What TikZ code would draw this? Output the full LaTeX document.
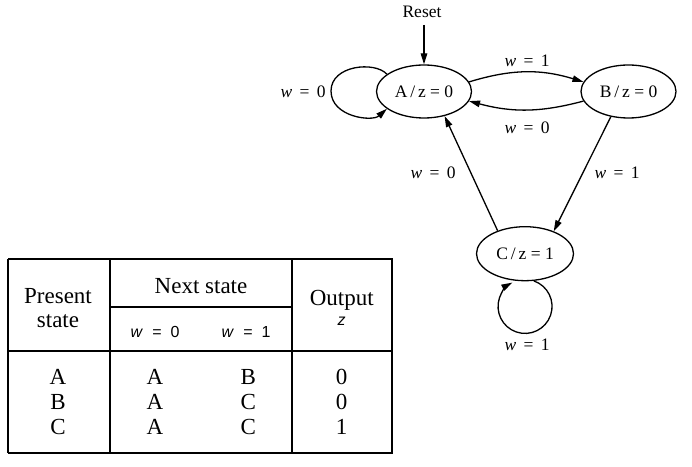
\documentclass[tikz,border=0pt]{standalone}
\usepackage{fontspec}
\setmainfont{Liberation Serif}
\setsansfont{Liberation Sans}
\usetikzlibrary{shapes.geometric,arrows.meta}
\begin{document}
\begin{tikzpicture}[x=1pt,y=1pt,
  state/.style={ellipse,draw,line width=1.3pt,minimum width=95pt,minimum height=53pt,inner sep=0pt,font=\fontsize{17.5}{20}\selectfont},
  lbl/.style={font=\fontsize{17.5}{20}\selectfont,inner sep=0pt},
  edge/.style={line width=1.3pt,-{Triangle[length=11pt,width=6.5pt]}},
  tline/.style={line width=2pt},
  tser/.style={font=\fontsize{23}{26}\selectfont,anchor=base,inner sep=0pt},
  tsans/.style={font=\sffamily\fontsize{16}{18}\selectfont,anchor=base,inner sep=0pt}]
\useasboundingbox (0,0) rectangle (692,466);
% states
\node[state] (A) at (424,374.5) {A\,/\,z = 0};
\node[state] (B) at (628.5,374.5) {B\,/\,z = 0};
\node[state,minimum width=97pt,minimum height=54pt] (C) at (525,212.3) {C\,/\,z = 1};
\node[lbl,anchor=base] (reset) at (422,448.7) {Reset};
\coordinate (r0) at (424,441);
% edges
\draw[edge] (r0) -- (A.north);
\draw[edge] (A.155) .. controls (375,405) and (331,401) .. (331,375)
                    .. controls (331,349) and (372,344) .. (A.205);
\draw[edge] (A.12) to[bend left=17] (B.168);
\draw[edge] (B.192) to[bend left=15] (A.348);
\draw[edge] (B.235) -- (C.38);
\draw[edge] (C.140) -- (A.310);
\draw[edge] (C.288) arc[start angle=71,end angle=-242,radius=27];
% labels
\node[lbl] (l1) at (303,374) {\textit{w}\hspace{0.42em}=\hspace{0.42em}0};
\node[lbl] (l2) at (527,405) {\textit{w}\hspace{0.42em}=\hspace{0.42em}1};
\node[lbl] (l3) at (527,338) {\textit{w}\hspace{0.42em}=\hspace{0.42em}0};
\node[lbl] (l4) at (433,293) {\textit{w}\hspace{0.42em}=\hspace{0.42em}0};
\node[lbl] (l5) at (617,293) {\textit{w}\hspace{0.42em}=\hspace{0.42em}1};
\node[lbl] (l6) at (527,121) {\textit{w}\hspace{0.42em}=\hspace{0.42em}1};
% table
\draw[tline] (8,207) -- (393,207);
\draw[tline] (8,207) -- (8,13.3);
\draw[tline] (392,207) -- (392,13.3);
\draw[tline] (8,13.3) -- (393,13.3);
\draw[tline] (8,115.3) -- (392,115.3);
\draw[tline] (110,207) -- (110,13.3);
\draw[tline] (292,207) -- (292,13.3);
\draw[tline] (110,159.3) -- (292,159.3);
\node[tser] (h1) at (58,162.7) {Present};
\node[tser] (h2) at (58,138.7) {state};
\node[tser] (h3) at (201,172.7) {Next state};
\node[tser] (h4) at (341.7,161) {Output};
\node[tsans] (h5) at (341.7,141) {\itshape z};
\node[tsans] (h6) at (155,128.7) {\itshape w\hspace{0.65em}\upshape=\hspace{0.55em}0};
\node[tsans] (h7) at (246,128.7) {\itshape w\hspace{0.65em}\upshape=\hspace{0.55em}1};
\node[tser] (a1) at (58,82) {A};
\node[tser] (a2) at (155,82) {A};
\node[tser] (a3) at (248.3,82) {B};
\node[tser] (a4) at (341.7,82) {0};
\node[tser] (b1) at (58,56.7) {B};
\node[tser] (b2) at (155,56.7) {A};
\node[tser] (b3) at (248.3,56.7) {C};
\node[tser] (b4) at (341.7,56.7) {0};
\node[tser] (c1) at (58,32) {C};
\node[tser] (c2) at (155,32) {A};
\node[tser] (c3) at (248.3,32) {C};
\node[tser] (c4) at (341.7,32) {1};
\end{tikzpicture}
\end{document}
